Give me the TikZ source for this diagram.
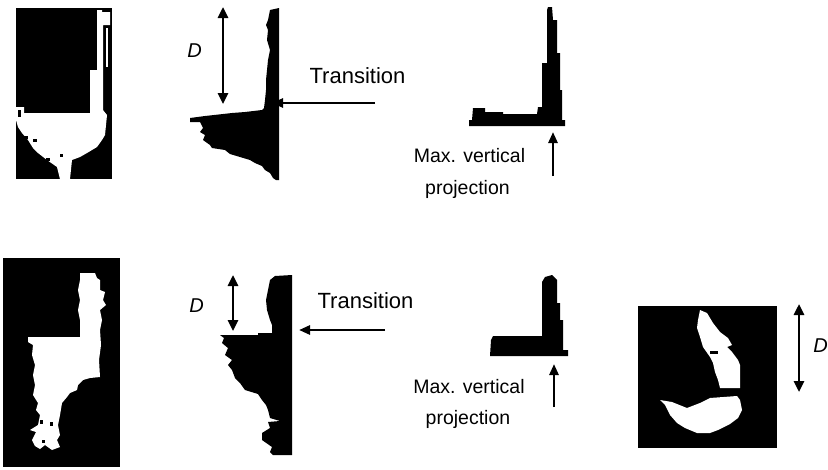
\documentclass[tikz,border=0pt]{standalone}
\usepackage{fontspec}
\setmainfont{Liberation Sans}
\usetikzlibrary{arrows.meta}
\tikzset{
  blk/.style={fill=black,draw=none},
  wht/.style={fill=white,draw=none},
  lbl/.style={inner sep=0pt,anchor=base,font=\fontsize{19.5}{22}\selectfont},
  trans/.style={inner sep=0pt,anchor=base,font=\fontsize{22}{26}\selectfont},
  dlbl/.style={inner sep=0pt,anchor=base,font=\fontsize{20}{22}\selectfont\itshape},
  dimarrow/.style={line width=2.6pt,{Triangle[length=11pt,width=10pt]}-{Triangle[length=11pt,width=10pt]}},
  onearrow/.style={line width=2.6pt,-{Triangle[length=11pt,width=9pt]}},
}
\begin{document}
\begin{tikzpicture}[x=1pt,y=-1pt]
\useasboundingbox (0,0) rectangle (828,469);
% ---------- top-left image ----------
\fill[blk] (16,8) rectangle (112,179);
\fill[wht] (16,107) -- (24,107) -- (24,113) -- (50,113) -- (90,113) -- (90,70) -- (97,70) -- (97,10) -- (102,10) -- (102,12) -- (110,12) -- (110,25) -- (103,25) -- (103,110) -- (107,115) -- (105,135) -- (102,140) -- (97,147) -- (87,153) -- (80,157) -- (72,160) -- (70,179) -- (60,179) -- (57,167) -- (47,160) -- (38,153) -- (33,148) -- (28,140) -- (22,133) -- (18,127) -- (16,120) -- cycle;
\fill[wht] (106,28) rectangle (108,67);
\fill[blk] (24,136) rectangle (28,139);
\fill[blk] (33,139) rectangle (37,142);
\fill[blk] (46,158) rectangle (50,161);
\fill[blk] (60,154) rectangle (63,157);
\fill[blk] (18,110) rectangle (21,117);
% ---------- top horizontal projection ----------
\fill[blk] (279,8) -- (270,10) -- (268,20) -- (266,25) -- (268,30) -- (267,40) -- (270,50) -- (268,60) -- (267,70) -- (266,80) -- (266,90) -- (265,100) -- (264,108) -- (262,110) -- (245,112) -- (232,113) -- (205,116) -- (190,118) -- (190,122) -- (200,122) -- (203,128) -- (200,132) -- (205,135) -- (203,140) -- (210,145) -- (212,148) -- (225,150) -- (230,154) -- (240,157) -- (250,160) -- (255,163) -- (262,166) -- (265,170) -- (270,173) -- (273,178) -- (276,180) -- (279,180) -- cycle;
\coordinate (d1t) at (223,7);
\coordinate (d1b) at (223,104);
\draw[dimarrow] (d1t) -- (d1b);
\node[dlbl] (D1) at (194.5,57) {D};
\node[trans] (T1) at (357.5,83) {Transition};
\coordinate (t1s) at (375,103);
\coordinate (t1e) at (272,103);
\draw[onearrow] (t1s) -- (t1e);
% ---------- top vertical projection ----------
\fill[blk] (469,126) -- (469,120) -- (472,120) -- (473,108) -- (485,108) -- (485,112) -- (503,112) -- (503,114) -- (537,114) -- (538,107) -- (542,107) -- (542,63) -- (547,63) -- (547,10) -- (548,7) -- (552,7) -- (553,20) -- (557,20) -- (557,53) -- (560,53) -- (560,90) -- (562,90) -- (562,120) -- (565,120) -- (565,126) -- cycle;
\coordinate (m1s) at (553,176);
\coordinate (m1e) at (553,132);
\draw[onearrow] (m1s) -- (m1e);
\node[lbl] (M1) at (469.5,162) {Max. vertical};
\node[lbl] (P1) at (467.5,194) {projection};
% ---------- bottom-left image ----------
\fill[blk] (3,258) rectangle (120,467);
\fill[wht] (80,273) -- (95,273) -- (97,278) -- (100,280) -- (100,290) -- (105,292) -- (103,300) -- (106,305) -- (100,310) -- (102,320) -- (100,330) -- (101,345) -- (99,360) -- (100,377) -- (90,378) -- (83,380) -- (78,385) -- (77,390) -- (70,393) -- (67,397) -- (62,403) -- (60,415) -- (58,425) -- (60,435) -- (57,440) -- (60,447) -- (52,450) -- (45,445) -- (40,449) -- (35,446) -- (32,440) -- (36,432) -- (30,430) -- (38,425) -- (40,415) -- (36,410) -- (38,403) -- (33,395) -- (35,385) -- (33,375) -- (35,365) -- (32,355) -- (33,345) -- (28,342) -- (28,337) -- (80,337) -- (80,320) -- (78,310) -- (80,300) -- (78,290) -- (80,280) -- cycle;
\fill[blk] (40,420) rectangle (43,424);
\fill[blk] (50,422) rectangle (53,426);
\fill[blk] (42,440) rectangle (45,443);
% ---------- bottom horizontal projection ----------
\fill[blk] (292,275) -- (292,455) -- (273,455) -- (270,452) -- (272,447) -- (262,440) -- (262,433) -- (270,428) -- (268,422) -- (280,421) -- (270,418) -- (268,410) -- (266,405) -- (262,400) -- (258,394) -- (245,390) -- (240,383) -- (235,378) -- (232,370) -- (228,365) -- (232,360) -- (225,355) -- (228,348) -- (222,343) -- (224,338) -- (220,335) -- (258,335) -- (258,333) -- (272,333) -- (272,325) -- (270,320) -- (267,310) -- (266,300) -- (268,290) -- (270,280) -- (275,276) -- cycle;
\coordinate (d2t) at (233,275);
\coordinate (d2b) at (233,331);
\draw[dimarrow] (d2t) -- (d2b);
\node[dlbl] (D2) at (196.5,312) {D};
\node[trans] (T2) at (365.5,308) {Transition};
\coordinate (t2s) at (385,330);
\coordinate (t2e) at (299,330);
\draw[onearrow] (t2s) -- (t2e);
% ---------- bottom vertical projection ----------
\fill[blk] (490,356) -- (491,340) -- (493,336) -- (542,336) -- (542,282) -- (545,277) -- (552,275) -- (557,280) -- (557,303) -- (560,303) -- (560,320) -- (563,320) -- (563,350) -- (568,350) -- (568,356) -- cycle;
\coordinate (m2s) at (554,407);
\coordinate (m2e) at (554,364);
\draw[onearrow] (m2s) -- (m2e);
\node[lbl] (M2) at (469,393) {Max. vertical};
\node[lbl] (P2) at (468,424) {projection};
% ---------- bottom-right image ----------
\fill[blk] (638,306) rectangle (777,448);
\fill[wht] (700,310) -- (707,313) -- (713,323) -- (720,332) -- (728,338) -- (732,345) -- (727,347) -- (732,352) -- (738,360) -- (740,365) -- (740,388) -- (720,388) -- (718,380) -- (715,372) -- (713,363) -- (710,357) -- (703,347) -- (700,337) -- (697,328) -- (698,320) -- cycle;
\fill[blk] (710,351) rectangle (718,354);
\fill[wht] (660,400) -- (672,402) -- (687,408) -- (700,403) -- (710,398) -- (737,396) -- (740,400) -- (742,410) -- (738,418) -- (730,424) -- (718,430) -- (710,433) -- (697,433) -- (685,428) -- (677,423) -- (670,415) -- (665,405) -- cycle;
\coordinate (d3t) at (799,304);
\coordinate (d3b) at (799,392);
\draw[dimarrow] (d3t) -- (d3b);
\node[dlbl] (D3) at (820.5,352) {D};
\end{tikzpicture}
\end{document}
